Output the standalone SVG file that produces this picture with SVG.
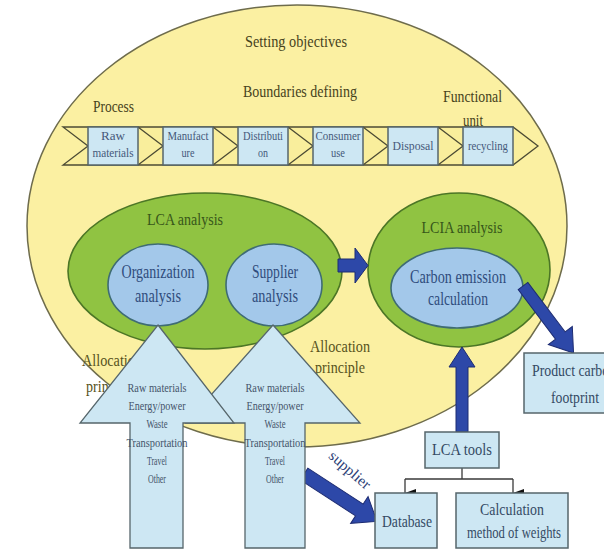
<svg xmlns="http://www.w3.org/2000/svg" width="604" height="553" viewBox="0 0 604 553" font-family="'Liberation Serif', 'DejaVu Serif', serif">
<defs>
<style>
text{font-family:'Liberation Serif','DejaVu Serif',serif;text-anchor:middle;}
.big{fill:#FBF0A2;stroke:#6E6C4C;stroke-width:1.5;}
.green{fill:#90C342;stroke:#4C7626;stroke-width:1.6;}
.inner{fill:#A3C8EA;stroke:#3F6C74;stroke-width:1.6;}
.box{fill:#CDE7F3;stroke:#56666B;stroke-width:1.5;}
.chain{fill:#F9EE9C;stroke:#4C4B34;stroke-width:1.3;}
.chev{fill:none;stroke:#4C4B34;stroke-width:1.3;}
.up{fill:#CDE7F3;stroke:#56666B;stroke-width:1.3;}
.blue{fill:#2D48A8;stroke:#1D2C72;stroke-width:1;}
.conn{fill:none;stroke:#3A3A3A;stroke-width:1.3;}
.olive{fill:#46421C;font-size:17px;}
.alloc{fill:#57521C;font-size:17px;}
.ct{fill:#45597A;font-size:12px;}
.gt{fill:#37561A;font-size:17px;}
.it{fill:#2F4C7C;font-size:18px;}
.at{fill:#44546A;font-size:13px;}
.bt{fill:#344A64;font-size:17px;}
</style>
<marker id="tri" viewBox="0 0 8 11" refX="4" refY="11" markerWidth="8" markerHeight="11" markerUnits="userSpaceOnUse" orient="auto-start-reverse">
<path d="M0,0 L8,0 L4,11 Z" fill="#111"/>
</marker>
</defs>

<g id="frame">
<ellipse class="big" cx="297" cy="226" rx="270" ry="221"/>
<text class="olive" x="296" y="47" textLength="102" lengthAdjust="spacingAndGlyphs">Setting objectives</text>
<text class="olive" x="300" y="97" textLength="114" lengthAdjust="spacingAndGlyphs">Boundaries defining</text>
<text class="olive" x="113.5" y="112" textLength="41" lengthAdjust="spacingAndGlyphs">Process</text>
<text class="olive" x="472.5" y="102" textLength="59" lengthAdjust="spacingAndGlyphs">Functional</text>
</g>

<g id="process-chain">
<polygon class="chain" points="63,127 513,127 538,146 513,165 63,165 88,146"/>
<path class="chev" d="M138,127 L163,146 L138,165 M213,127 L238,146 L213,165 M288,127 L313,146 L288,165 M363,127 L388,146 L363,165 M438,127 L463,146 L438,165"/>
</g>
<g id="step-raw">
<rect class="box" x="88" y="127" width="50" height="38"/>
<text class="ct" x="113" y="140" textLength="24" lengthAdjust="spacingAndGlyphs">Raw</text>
<text class="ct" x="113" y="157" textLength="41" lengthAdjust="spacingAndGlyphs">materials</text>
</g>
<g id="step-manufacture">
<rect class="box" x="163" y="127" width="50" height="38"/>
<text class="ct" x="188" y="140" textLength="41" lengthAdjust="spacingAndGlyphs">Manufact</text>
<text class="ct" x="188" y="157" textLength="13" lengthAdjust="spacingAndGlyphs">ure</text>
</g>
<g id="step-distribution">
<rect class="box" x="238" y="127" width="50" height="38"/>
<text class="ct" x="263" y="140" textLength="40" lengthAdjust="spacingAndGlyphs">Distributi</text>
<text class="ct" x="263" y="157" textLength="10" lengthAdjust="spacingAndGlyphs">on</text>
</g>
<g id="step-consumer">
<rect class="box" x="313" y="127" width="50" height="38"/>
<text class="ct" x="338" y="140" textLength="45" lengthAdjust="spacingAndGlyphs">Consumer</text>
<text class="ct" x="338" y="157" textLength="14" lengthAdjust="spacingAndGlyphs">use</text>
</g>
<g id="step-disposal">
<rect class="box" x="388" y="127" width="50" height="38"/>
<text class="ct" x="413" y="150" textLength="41" lengthAdjust="spacingAndGlyphs">Disposal</text>
</g>
<g id="step-recycling">
<rect class="box" x="463" y="127" width="50" height="38"/>
<text class="ct" x="488" y="150" textLength="40" lengthAdjust="spacingAndGlyphs">recycling</text>
</g>
<g id="unit-label">
<text class="olive" x="473" y="126" textLength="20" lengthAdjust="spacingAndGlyphs">unit</text>
</g>

<g id="lca-analysis">
<ellipse class="green" cx="205" cy="271" rx="137" ry="78"/>
<text class="gt" x="185" y="225" textLength="76" lengthAdjust="spacingAndGlyphs">LCA analysis</text>
</g>
<g id="organization-analysis">
<ellipse class="inner" cx="158" cy="285" rx="50" ry="41"/>
<text class="it" x="158" y="278" textLength="73" lengthAdjust="spacingAndGlyphs">Organization</text>
<text class="it" x="158" y="302" textLength="46" lengthAdjust="spacingAndGlyphs">analysis</text>
</g>
<g id="supplier-analysis">
<ellipse class="inner" cx="274" cy="285" rx="48" ry="41"/>
<text class="it" x="275" y="278" textLength="46" lengthAdjust="spacingAndGlyphs">Supplier</text>
<text class="it" x="275" y="302" textLength="46" lengthAdjust="spacingAndGlyphs">analysis</text>
</g>
<g id="lcia-analysis">
<ellipse class="green" cx="459" cy="270" rx="91" ry="77"/>
<text class="gt" x="462" y="233" textLength="81" lengthAdjust="spacingAndGlyphs">LCIA analysis</text>
</g>
<g id="carbon-emission">
<ellipse class="inner" cx="457" cy="288" rx="66" ry="40"/>
<text class="it" x="458" y="283" textLength="96" lengthAdjust="spacingAndGlyphs">Carbon emission</text>
<text class="it" x="458" y="305" textLength="60" lengthAdjust="spacingAndGlyphs">calculation</text>
</g>

<g id="allocation-left">
<text class="alloc" x="112" y="366" textLength="60" lengthAdjust="spacingAndGlyphs">Allocation</text>
<text class="alloc" x="111" y="392" textLength="50" lengthAdjust="spacingAndGlyphs">principle</text>
</g>
<g id="allocation-right">
<text class="alloc" x="340" y="352" textLength="60" lengthAdjust="spacingAndGlyphs">Allocation</text>
<text class="alloc" x="340" y="373" textLength="50" lengthAdjust="spacingAndGlyphs">principle</text>
</g>

<g id="connectors">
<polygon class="blue" points="338,259 355,259 355,248 368,265.5 355,283 355,272 338,272"/>
<polygon class="blue" transform="translate(523,286) rotate(53)" points="0,-6 62,-6 62,-15 84,0 62,15 62,6 0,6"/>
<polygon class="blue" points="456,432 456,367 449,367 462,347 475,367 468,367 468,432"/>
<polygon class="blue" transform="translate(304,474) rotate(33)" points="0,-7 66,-7 66,-16 87,0 66,16 66,7 0,7"/>
<text x="350" y="475" transform="rotate(41 350 470)" fill="#2E3F78" font-size="15" textLength="50" lengthAdjust="spacingAndGlyphs">supplier</text>
<path class="conn" d="M462,468 V479 M405,479 H513"/>
<path class="conn" d="M405,479 V493" marker-end="url(#tri)"/>
<path class="conn" d="M513,479 V493" marker-end="url(#tri)"/>
</g>

<g id="supplier-inputs">
<polygon class="up" points="273,325 360,423 305,423 305,548 245,548 245,423 186,423"/>
<text class="at" x="275" y="392" textLength="59" lengthAdjust="spacingAndGlyphs">Raw materials</text>
<text class="at" x="275" y="410" textLength="57" lengthAdjust="spacingAndGlyphs">Energy/power</text>
<text class="at" x="275" y="428" textLength="21" lengthAdjust="spacingAndGlyphs">Waste</text>
<text class="at" x="275" y="447" textLength="61" lengthAdjust="spacingAndGlyphs">Transportation</text>
<text class="at" x="275" y="465" textLength="20" lengthAdjust="spacingAndGlyphs">Travel</text>
<text class="at" x="275" y="483" textLength="18" lengthAdjust="spacingAndGlyphs">Other</text>
</g>
<g id="organization-inputs">
<polygon class="up" points="158,325 234,423 183,423 183,548 130,548 130,423 80,423"/>
<text class="at" x="157" y="392" textLength="59" lengthAdjust="spacingAndGlyphs">Raw materials</text>
<text class="at" x="157" y="410" textLength="57" lengthAdjust="spacingAndGlyphs">Energy/power</text>
<text class="at" x="157" y="428" textLength="21" lengthAdjust="spacingAndGlyphs">Waste</text>
<text class="at" x="157" y="447" textLength="61" lengthAdjust="spacingAndGlyphs">Transportation</text>
<text class="at" x="157" y="465" textLength="20" lengthAdjust="spacingAndGlyphs">Travel</text>
<text class="at" x="157" y="483" textLength="18" lengthAdjust="spacingAndGlyphs">Other</text>
</g>

<g id="product-carbon-footprint">
<rect class="box" x="524" y="353" width="100" height="60"/>
<text class="bt" x="574" y="376" textLength="84" lengthAdjust="spacingAndGlyphs">Product carbon</text>
<text class="bt" x="575" y="403" textLength="48" lengthAdjust="spacingAndGlyphs">footprint</text>
</g>
<g id="lca-tools">
<rect class="box" x="425" y="432" width="74" height="36"/>
<text class="bt" x="462" y="455" textLength="60" lengthAdjust="spacingAndGlyphs">LCA tools</text>
</g>
<g id="database">
<rect class="box" x="375" y="493" width="62" height="55"/>
<text class="bt" x="407" y="527" textLength="50" lengthAdjust="spacingAndGlyphs">Database</text>
</g>
<g id="calculation-method">
<rect class="box" x="456" y="493" width="112" height="55"/>
<text class="bt" x="512" y="515" textLength="64" lengthAdjust="spacingAndGlyphs">Calculation</text>
<text class="bt" x="514" y="538" textLength="94" lengthAdjust="spacingAndGlyphs">method of weights</text>
</g>
</svg>
